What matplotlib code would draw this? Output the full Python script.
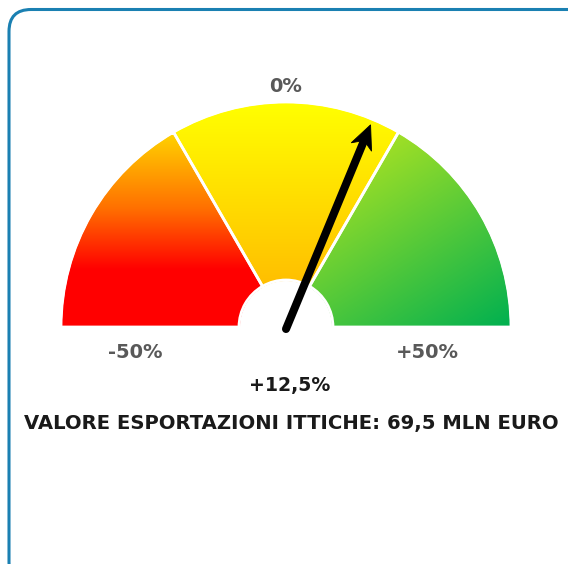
import numpy as np
import matplotlib
matplotlib.use("Agg")
import matplotlib.pyplot as plt
from matplotlib.patches import Wedge, FancyBboxPatch, Polygon
from matplotlib.colors import LinearSegmentedColormap

# ---- data ----
sector_edges = [-50, -50/3, 50/3, 50]          # gauge value boundaries (%)
red_stops = [(0.0, "#ff0000"), (0.30, "#ff0000"), (0.62, "#ff7000"), (1.0, "#ffd000")]
yellow_stops = [(0.0, "#ffbe00"), (1.0, "#ffff00")]
green_stops = [(0.0, "#00b050"), (1.0, "#c4ea1c")]
scale_labels = ["-50%", "0%", "+50%"]
needle_value = 12.5
value_label = "+12,5%"
title = "VALORE ESPORTAZIONI ITTICHE: 69,5 MLN EURO"

W, H = 568, 564
fig = plt.figure(figsize=(W / 100, H / 100), dpi=100)
ax = fig.add_axes([0, 0, 1, 1])
ax.set_xlim(0, W)
ax.set_ylim(0, H)
ax.set_aspect("auto")
ax.axis("off")

# frame
frame = FancyBboxPatch((9, -20), 600, H - 9 + 20 - 0.5, boxstyle="round,pad=0,rounding_size=22",
                       fc="white", ec="#1a80b2", lw=2.2)
ax.add_patch(frame)

cx, cy = 286, H - 327
R, r_in = 224, 46

def val2ang(v):
    return 90 - v * 1.8

n = 256
yy, xx = np.mgrid[0:1:n * 1j, 0:1:n * 1j]
grads = [yy, yy, 0.6 * yy + 0.4 * (1 - xx)]
stops = [red_stops, yellow_stops, green_stops]
extents = [[cx - R, cx, cy, cy + 192],
           [cx - R * 0.55, cx + R * 0.55, cy + 40, cy + R],
           [cx + 20, cx + R, cy, cy + 195]]

for i in range(3):
    span_lo = 180 - (i + 1) * 60
    span_hi = 180 - i * 60
    w = Wedge((cx, cy), R, span_lo, span_hi, width=R - r_in, fc="none", ec="none")
    ax.add_patch(w)
    cmap = LinearSegmentedColormap.from_list("g%d" % i, stops[i])
    im = ax.imshow(np.clip(grads[i], 0, 1), cmap=cmap, vmin=0, vmax=1, origin="lower",
                   extent=extents[i], interpolation="bilinear", aspect="auto", zorder=2)
    im.set_clip_path(w)
    ax.add_patch(Wedge((cx, cy), R + 1, span_lo, span_hi, width=R - r_in, fc="none",
                       ec="white", lw=2.0, zorder=3))

# trim outer outline of separators
ax.add_patch(Wedge((cx, cy), R + 4, 0, 180, width=3.4, fc="white", ec="none", zorder=3.5))
ax.plot([cx - R - 5, cx + R + 5], [cy - 1.2, cy - 1.2], color="white", lw=1.8, zorder=3.5)

# needle
ang = np.deg2rad(val2ang(needle_value))
u = np.array([np.cos(ang), np.sin(ang)])
p = np.array([-u[1], u[0]])
tail = np.array([cx, cy - 2.0])
L = 221
tip = tail + L * u
head_len, half_w, notch = 24, 11, 7
base = tip - head_len * u
shaft_end = base + notch * u
ax.plot([tail[0], shaft_end[0]], [tail[1], shaft_end[1]],
        color="black", lw=5.8, solid_capstyle="round", zorder=5)
head = np.array([tip, base + half_w * p, shaft_end, base - half_w * p])
ax.add_patch(Polygon(head, closed=True, fc="black", ec="black", lw=0.6, zorder=6))

fam = ["DejaVu Sans"]
ax.text(cx, H - 86, scale_labels[1], ha="center", va="center", fontsize=14, color="#595959",
        fontweight="bold", family=fam)
ax.text(135, H - 353, scale_labels[0], ha="center", va="center", fontsize=14, color="#595959",
        fontweight="bold", family=fam)
ax.text(427, H - 353, scale_labels[2], ha="center", va="center", fontsize=14, color="#595959",
        fontweight="bold", family=fam)
ax.text(290, H - 386, value_label, ha="center", va="center", fontsize=13.6, color="#1a1a1a",
        fontweight="bold", family=fam)
ax.text(291, H - 424, title, ha="center", va="center", fontsize=14.1, color="#1a1a1a",
        fontweight="bold", family=fam)

fig.savefig("out.png", dpi=100)
